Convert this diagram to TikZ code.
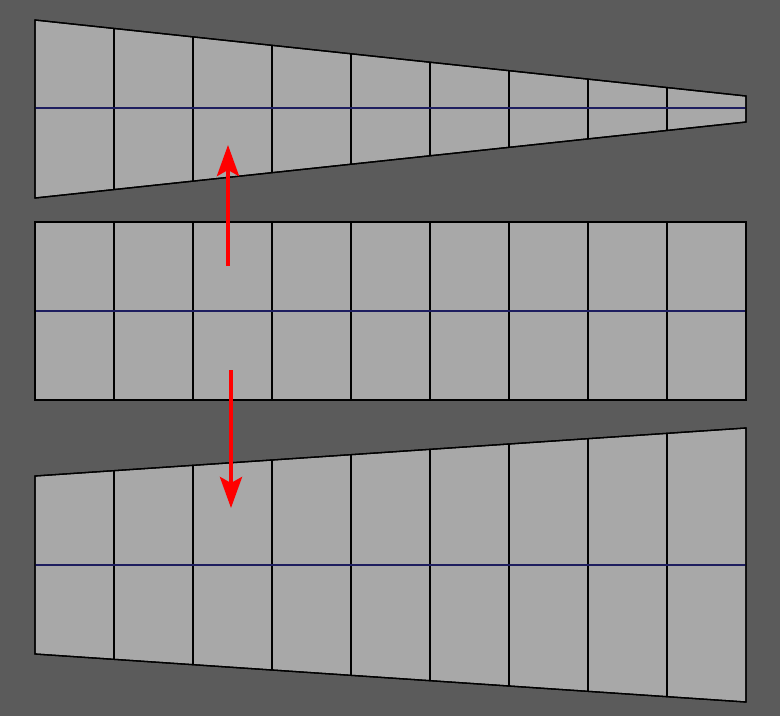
\documentclass[tikz,border=0pt]{standalone}
\usetikzlibrary{arrows.meta}
\definecolor{bggray}{RGB}{91,91,91}
\definecolor{panelgray}{RGB}{168,168,168}
\definecolor{midline}{RGB}{30,30,95}
\tikzset{
	panel/.style={fill=panelgray, draw=black, line width=1.3pt, line join=miter},
	grid/.style={draw=black, line width=1.3pt},
	axis/.style={draw=midline, line width=1.1pt},
	push/.style={draw=red, line width=4pt, -{Stealth[length=31pt, width=22pt, inset=6pt]}}
}
\begin{document}
\begin{tikzpicture}[x=1pt, y=-1pt]
	\fill[bggray] (0, 0) rectangle (780, 716);
	
	% top panel, narrowing to the right
	\draw[panel] (35, 20) -- (746, 96) -- (746, 122) -- (35, 198) -- cycle;
	\foreach \i in {1,...,8}
		\draw[grid] ({35+79*\i}, {20+76*\i/9}) -- ({35+79*\i}, {198-76*\i/9});
	\draw[axis] (35, 108) -- (746, 108);
	\draw[panel, fill=none] (35, 20) -- (746, 96) -- (746, 122) -- (35, 198) -- cycle;
	
	% middle panel
	\draw[panel] (35, 222) rectangle (746, 400);
	\foreach \i in {1,...,8}
		\draw[grid] ({35+79*\i}, 222) -- ({35+79*\i}, 400);
	\draw[axis] (35, 311) -- (746, 311);
	\draw[panel, fill=none] (35, 222) rectangle (746, 400);
	
	% bottom panel, widening to the right
	\draw[panel] (35, 476) -- (746, 428) -- (746, 702) -- (35, 654) -- cycle;
	\foreach \i in {1,...,8}
		\draw[grid] ({35+79*\i}, {476-48*\i/9}) -- ({35+79*\i}, {654+48*\i/9});
	\draw[axis] (35, 565) -- (746, 565);
	\draw[panel, fill=none] (35, 476) -- (746, 428) -- (746, 702) -- (35, 654) -- cycle;
	
	% arrows
	\coordinate (upstart) at (228, 266);
	\coordinate (upend) at (228, 145);
	\coordinate (downstart) at (231, 370);
	\coordinate (downend) at (231, 508);
	\draw[push] (upstart) -- (upend);
	\draw[push] (downstart) -- (downend);
\end{tikzpicture}
\end{document}
